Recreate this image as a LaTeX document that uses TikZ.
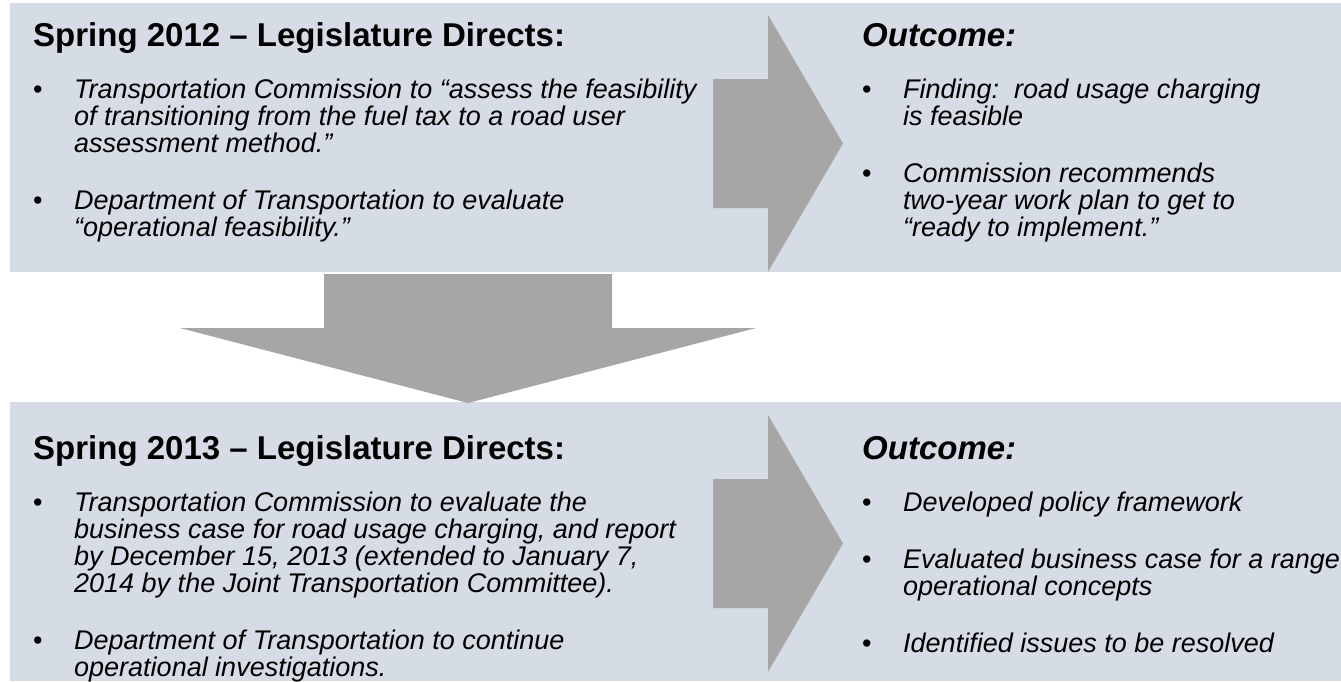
\documentclass[tikz,border=0pt]{standalone}
\usepackage{fontspec}
\setmainfont{Liberation Sans}
\usetikzlibrary{positioning}

\definecolor{panelgray}{HTML}{D6DCE5}
\definecolor{arrowgray}{HTML}{A6A6A6}

\newcommand{\bul}{\makebox[41pt][l]{\upshape•}}
\newcommand{\nxt}{\\\hspace*{41pt}}

\tikzset{
  panel/.style={fill=panelgray},
  blockarrow/.style={fill=arrowgray},
  head/.style={anchor=base west, inner sep=0pt, font=\bfseries\fontsize{33}{36}\selectfont,
    execute at begin node=\strut},
  outhead/.style={head, font=\bfseries\itshape\fontsize{33}{36}\selectfont},
  item/.style={inner sep=0pt, align=left, font=\itshape\fontsize{27}{27}\selectfont,
    execute at begin node=\strut, execute at end node=\strut},
}

\begin{document}
\begin{tikzpicture}[x=1pt,y=-1pt]
    \useasboundingbox (0,0) rectangle (1341,681);
    \fill[panel] (10,3) rectangle (1341,272);
    \fill[panel] (10,402) rectangle (1341,681);
    \foreach \dy in {0,400}
        {
          \fill[blockarrow] (713,79+\dy) -- (768,79+\dy) -- (768,15+\dy) -- (843,143.5+\dy)
              -- (768,272+\dy) -- (768,208+\dy) -- (713,208+\dy) -- cycle;
        };
    \fill[blockarrow] (324,274) -- (612,274) -- (612,328) -- (756,328) -- (468,403)
        -- (180,328) -- (324,328) -- cycle;

    \node[head] (h12) at (33,46) {Spring 2012 – Legislature Directs:};
    \node[item, below=22pt of h12.south west, anchor=north west] (a12) {\bul Transportation Commission to “assess the feasibility\nxt of transitioning from the fuel tax to a road user\nxt assessment method.”};
    \node[item, below=29pt of a12.south west, anchor=north west] (b12) {\bul Department of Transportation to evaluate\nxt “operational feasibility.”};

    \node[outhead] (o12) at (862,46) {Outcome:};
    \node[item, below=22pt of o12.south west, anchor=north west] (c12) {\bul Finding:\ \ road usage charging\nxt is feasible};
    \node[item, below=29pt of c12.south west, anchor=north west] (d12) {\bul Commission recommends\nxt two-year work plan to get to\nxt “ready to implement.”};

    \node[head] (h13) at (33,459) {Spring 2013 – Legislature Directs:};
    \node[item, below=22pt of h13.south west, anchor=north west] (a13) {\bul Transportation Commission to evaluate the\nxt business case for road usage charging, and report\nxt by December 15, 2013 (extended to January 7,\nxt 2014 by the Joint Transportation Committee).};
    \node[item, below=29pt of a13.south west, anchor=north west] (b13) {\bul Department of Transportation to continue\nxt operational investigations.};

    \node[outhead] (o13) at (862,459) {Outcome:};
    \node[item, below=22pt of o13.south west, anchor=north west] (c13) {\bul Developed policy framework};
    \node[item, below=29pt of c13.south west, anchor=north west] (d13) {\bul Evaluated business case for a range\nxt operational concepts};
    \node[item, below=29pt of d13.south west, anchor=north west] (e13) {\bul Identified issues to be resolved};
\end{tikzpicture}
\end{document}
